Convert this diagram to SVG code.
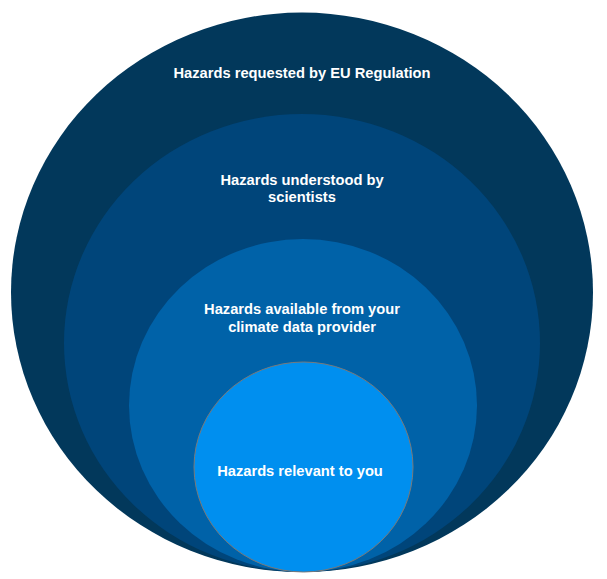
<svg xmlns="http://www.w3.org/2000/svg" width="607" height="579" viewBox="0 0 607 579">
<style>
.lbl{font-family:"Liberation Sans",Arial,sans-serif;font-weight:bold;font-size:14.7px;fill:#ffffff;text-anchor:middle}
</style>
<rect width="607" height="579" fill="#ffffff"/>
<g id="connectors"></g>
<g id="node-eu">
<ellipse cx="302" cy="292.3" rx="291" ry="279.7" fill="#02385B"/>
<text class="lbl" x="302" y="78">Hazards requested by EU Regulation</text>
</g>
<g id="node-scientists">
<ellipse cx="302" cy="343" rx="238" ry="229" fill="#00457A"/>
<text class="lbl" x="302" y="185">Hazards understood by</text>
<text class="lbl" x="302" y="202">scientists</text>
</g>
<g id="node-provider">
<ellipse cx="303" cy="405.5" rx="174" ry="166.5" fill="#0062A8"/>
<text class="lbl" x="302" y="314">Hazards available from your</text>
<text class="lbl" x="302" y="332">climate data provider</text>
</g>
<g id="node-you">
<ellipse cx="303.5" cy="467" rx="109.5" ry="105" fill="#008FEF" stroke="#7a7a7a" stroke-width="1"/>
<text class="lbl" x="300" y="476">Hazards relevant to you</text>
</g>
</svg>
